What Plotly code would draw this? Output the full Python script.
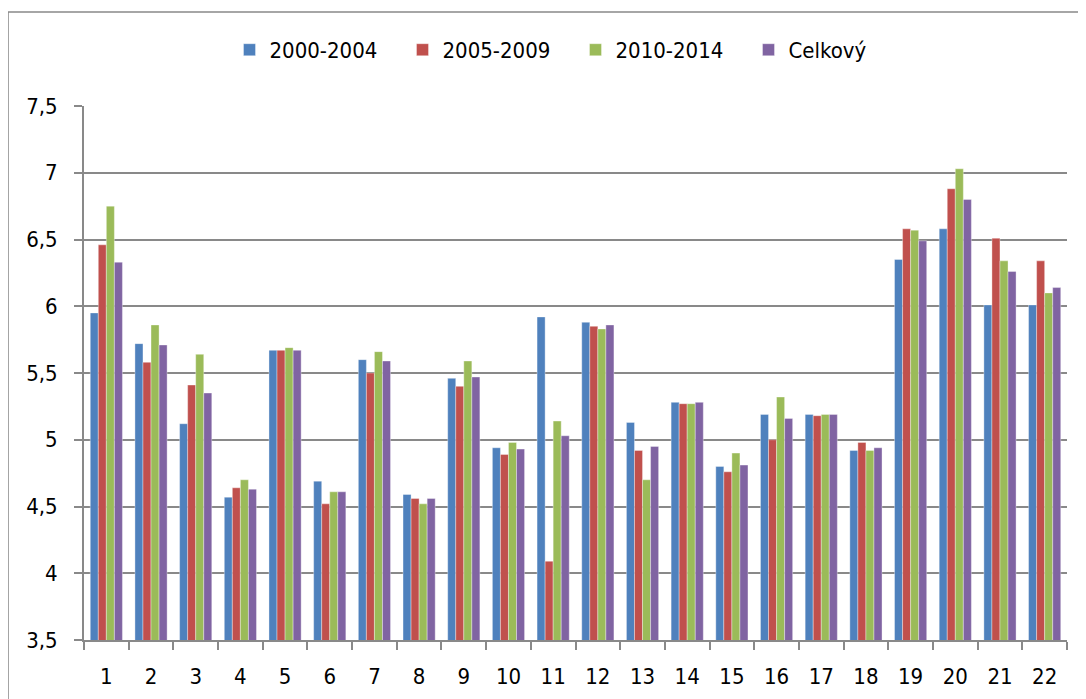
import plotly.graph_objects as go

categories = [str(i) for i in range(1, 23)]
s2000_2004 = [5.95, 5.72, 5.12, 4.57, 5.67, 4.69, 5.60, 4.59, 5.46, 4.94, 5.92,
              5.88, 5.13, 5.28, 4.80, 5.19, 5.19, 4.92, 6.35, 6.58, 6.01, 6.01]
s2005_2009 = [6.46, 5.58, 5.41, 4.64, 5.67, 4.52, 5.50, 4.56, 5.40, 4.89, 4.09,
              5.85, 4.92, 5.27, 4.76, 5.00, 5.18, 4.98, 6.58, 6.88, 6.51, 6.34]
s2010_2014 = [6.75, 5.86, 5.64, 4.70, 5.69, 4.61, 5.66, 4.52, 5.59, 4.98, 5.14,
              5.83, 4.70, 5.27, 4.90, 5.32, 5.19, 4.92, 6.57, 7.03, 6.34, 6.10]
celkovy = [6.33, 5.71, 5.35, 4.63, 5.67, 4.61, 5.59, 4.56, 5.47, 4.93, 5.03,
           5.86, 4.95, 5.28, 4.81, 5.16, 5.19, 4.94, 6.49, 6.80, 6.26, 6.14]
series_names = ["2000-2004", "2005-2009", "2010-2014", "Celkový"]
y_tickvals = [3.5, 4, 4.5, 5, 5.5, 6, 6.5, 7, 7.5]
y_ticktext = ["3,5", "4", "4,5", "5", "5,5", "6", "6,5", "7", "7,5"]

colors = ["#4F81BD", "#C0504D", "#9BBB59", "#8064A2"]
font_family = "DejaVu Sans Condensed, Liberation Sans, sans-serif"

fig = go.Figure()
for name, vals, col in zip(series_names, [s2000_2004, s2005_2009, s2010_2014, celkovy], colors):
    fig.add_trace(go.Bar(
        x=categories, y=vals, name=name,
        marker=dict(color=col, line=dict(color="rgba(255,255,255,0.6)", width=0.6)),
    ))

grid_col = "#898989"
fig.update_layout(
    width=1078, height=691,
    margin=dict(l=76, r=19, t=98, b=59, autoexpand=False),
    paper_bgcolor="white", plot_bgcolor="white",
    barmode="group", bargap=0.28, bargroupgap=0,
    font=dict(family=font_family, size=22, color="black"),
    showlegend=True,
    legend=dict(orientation="h", x=0.5, xanchor="center", y=1.105, yanchor="middle",
                font=dict(size=22), itemwidth=30, traceorder="normal",
                entrywidth=128, entrywidthmode="pixels",
                bgcolor="rgba(0,0,0,0)"),
    xaxis=dict(type="category", showgrid=False, showline=True, linecolor=grid_col, linewidth=2,
               ticks="outside", tickson="boundaries", ticklen=8, tickcolor=grid_col, tickwidth=2,
               tickfont=dict(size=22), ticklabelstandoff=16),
    yaxis=dict(range=[3.5, 7.5], tickvals=y_tickvals, ticktext=y_ticktext,
               showgrid=True, gridcolor=grid_col, gridwidth=2,
               showline=True, linecolor=grid_col, linewidth=2,
               ticks="outside", ticklen=8, tickcolor=grid_col, tickwidth=2,
               tickfont=dict(size=22), ticklabelstandoff=12, zeroline=False),
    shapes=[dict(type="rect", xref="paper", yref="paper",
                 x0=-0.0773, x1=1.2, y0=-0.3, y1=1.176,
                 line=dict(color="#898989", width=1.5), fillcolor="rgba(0,0,0,0)", layer="below")],
)

fig.write_html("out.html")
